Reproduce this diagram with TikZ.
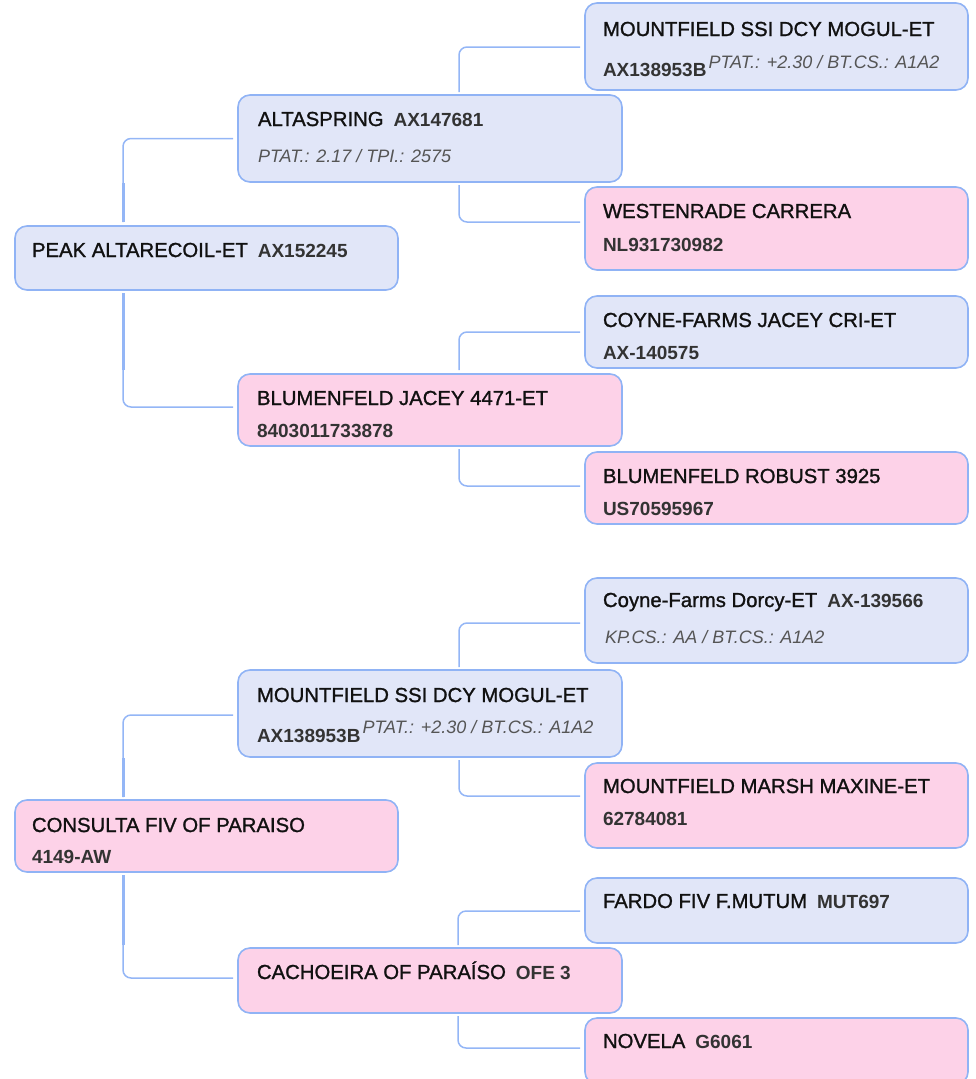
\documentclass[tikz,border=0pt]{standalone}
\usepackage{fontspec}
\setmainfont{Liberation Sans}
\newfontfamily\namefam[FakeBold=1.2]{Liberation Sans}
\definecolor{bluefill}{HTML}{E1E6F8}
\definecolor{pinkfill}{HTML}{FDD2E8}
\definecolor{bordercol}{HTML}{90B3F5}
\definecolor{conncol}{HTML}{94B6F6}
\definecolor{nmcol}{HTML}{111111}
\definecolor{idcol}{HTML}{333333}
\definecolor{itcol}{HTML}{555555}
\newcommand\nmf{\namefam\fontsize{20.3}{24}\selectfont\color{nmcol}}
\newcommand\idf{\normalfont\fontsize{19}{22}\selectfont\bfseries\color{idcol}}
\newcommand\itf{\normalfont\fontsize{18}{22}\selectfont\mdseries\itshape\color{itcol}}
\begin{document}
\begin{tikzpicture}[x=1pt,y=-1pt,
  box/.style={draw=bordercol, line width=1.6pt, rounded corners=12pt, outer sep=0pt, inner sep=0pt, anchor=north west, minimum width=383pt},
  bbox/.style={box, fill=bluefill},
  pbox/.style={box, fill=pinkfill},
  txt/.style={anchor=base west, inner sep=0pt, outer sep=0pt},
  conn/.style={draw=conncol, line width=1.5pt, rounded corners=8pt},
  connthick/.style={draw=conncol, line width=3pt}]
\useasboundingbox (0,0) rectangle (976,1079);

% boxes
\node[bbox, minimum height=87pt] (m1) at (585,3) {};
\node[bbox, minimum width=384pt, minimum height=87pt] (alta) at (238,95) {};
\node[pbox, minimum height=83pt] (west) at (585,187) {};
\node[bbox, minimum height=64pt] (peak) at (15,226) {};
\node[bbox, minimum height=72pt] (cjacey) at (585,296) {};
\node[pbox, minimum width=384pt, minimum height=72pt] (bjacey) at (238,374) {};
\node[pbox, minimum height=72pt] (robust) at (585,452) {};
\node[bbox, minimum height=85pt] (dorcy) at (585,578) {};
\node[bbox, minimum width=384pt, minimum height=87pt] (mount) at (238,670) {};
\node[pbox, minimum height=85pt] (marsh) at (585,763) {};
\node[pbox, minimum height=72pt] (consulta) at (15,800) {};
\node[bbox, minimum height=65pt] (fardo) at (585,878) {};
\node[pbox, minimum width=384pt, minimum height=65pt] (cach) at (238,948) {};
\node[pbox, minimum height=66pt] (novela) at (585,1018) {};

% texts
\node[txt] (t1) at ([xshift=18pt,yshift=-33pt]m1.north west) {\nmf MOUNTFIELD SSI DCY MOGUL-ET};
\node[txt] (t1b) at ([xshift=18pt,yshift=-73pt]m1.north west) {\idf AX138953B\kern2pt\raisebox{8pt}{\itf PTAT.: +2.30 / BT.CS.: A1A2}};
\node[txt] (t2) at ([xshift=20pt,yshift=-31pt]alta.north west) {\nmf ALTASPRING\hspace{10pt}\idf AX147681};
\node[txt] (t2b) at ([xshift=20pt,yshift=-67pt]alta.north west) {\itf PTAT.: 2.17 / TPI.: 2575};
\node[txt] (t3) at ([xshift=18pt,yshift=-31pt]west.north west) {\nmf WESTENRADE CARRERA};
\node[txt] (t3b) at ([xshift=18pt,yshift=-64pt]west.north west) {\idf NL931730982};
\node[txt] (t4) at ([xshift=17pt,yshift=-31pt]peak.north west) {\nmf PEAK ALTARECOIL-ET\hspace{10pt}\idf AX152245};
\node[txt] (t5) at ([xshift=18pt,yshift=-31pt]cjacey.north west) {\nmf COYNE-FARMS JACEY CRI-ET};
\node[txt] (t5b) at ([xshift=18pt,yshift=-63pt]cjacey.north west) {\idf AX-140575};
\node[txt] (t6) at ([xshift=19pt,yshift=-31pt]bjacey.north west) {\nmf BLUMENFELD JACEY 4471-ET};
\node[txt] (t6b) at ([xshift=19pt,yshift=-63pt]bjacey.north west) {\idf 8403011733878};
\node[txt] (t7) at ([xshift=18pt,yshift=-31pt]robust.north west) {\nmf BLUMENFELD ROBUST 3925};
\node[txt] (t7b) at ([xshift=18pt,yshift=-63pt]robust.north west) {\idf US70595967};
\node[txt] (t8) at ([xshift=18pt,yshift=-29pt]dorcy.north west) {\nmf Coyne-Farms Dorcy-ET\hspace{10pt}\idf AX-139566};
\node[txt] (t8b) at ([xshift=20pt,yshift=-65pt]dorcy.north west) {\itf KP.CS.: AA / BT.CS.: A1A2};
\node[txt] (t9) at ([xshift=19pt,yshift=-32pt]mount.north west) {\nmf MOUNTFIELD SSI DCY MOGUL-ET};
\node[txt] (t9b) at ([xshift=19pt,yshift=-72pt]mount.north west) {\idf AX138953B\kern2pt\raisebox{9pt}{\itf PTAT.: +2.30 / BT.CS.: A1A2}};
\node[txt] (t10) at ([xshift=18pt,yshift=-30pt]marsh.north west) {\nmf MOUNTFIELD MARSH MAXINE-ET};
\node[txt] (t10b) at ([xshift=18pt,yshift=-62pt]marsh.north west) {\idf 62784081};
\node[txt] (t11) at ([xshift=17pt,yshift=-32pt]consulta.north west) {\nmf CONSULTA FIV OF PARAISO};
\node[txt] (t11b) at ([xshift=17pt,yshift=-63pt]consulta.north west) {\idf 4149-AW};
\node[txt] (t12) at ([xshift=18pt,yshift=-30pt]fardo.north west) {\nmf FARDO FIV F.MUTUM\hspace{10pt}\idf MUT697};
\node[txt] (t13) at ([xshift=19pt,yshift=-31pt]cach.north west) {\nmf CACHOEIRA OF PARAÍSO\hspace{10pt}\idf OFE 3};
\node[txt] (t14) at ([xshift=18pt,yshift=-30pt]novela.north west) {\nmf NOVELA\hspace{10pt}\idf G6061};

% connectors
\draw[conn] ([xshift=108pt,yshift=4pt]peak.north west) |- ([xshift=-5pt]alta.west);
\draw[connthick] ([xshift=108pt,yshift=4pt]peak.north west) -- ++(0,-39);
\draw[conn] ([xshift=108pt,yshift=-3pt]peak.south west) |- ([xshift=-5pt,yshift=-33pt]bjacey.north west);
\draw[connthick] ([xshift=108pt,yshift=-3pt]peak.south west) -- ++(0,77);
\draw[conn] ([xshift=221pt,yshift=3pt]alta.north west) |- ([xshift=-5pt,yshift=-44pt]m1.north west);
\draw[conn] ([xshift=221pt,yshift=-3pt]alta.south west) |- ([xshift=-5pt,yshift=-35pt]west.north west);
\draw[conn] ([xshift=221pt,yshift=4pt]bjacey.north west) |- ([xshift=-5pt,yshift=-36pt]cjacey.north west);
\draw[conn] ([xshift=221pt,yshift=-3pt]bjacey.south west) |- ([xshift=-5pt,yshift=-34pt]robust.north west);

\draw[conn] ([xshift=108pt,yshift=3pt]consulta.north west) |- ([xshift=-5pt,yshift=-45pt]mount.north west);
\draw[connthick] ([xshift=108pt,yshift=3pt]consulta.north west) -- ++(0,-39);
\draw[conn] ([xshift=108pt,yshift=-3pt]consulta.south west) |- ([xshift=-5pt,yshift=-30pt]cach.north west);
\draw[connthick] ([xshift=108pt,yshift=-3pt]consulta.south west) -- ++(0,70);
\draw[conn] ([xshift=221pt,yshift=3pt]mount.north west) |- ([xshift=-5pt,yshift=-45pt]dorcy.north west);
\draw[conn] ([xshift=221pt,yshift=-3pt]mount.south west) |- ([xshift=-5pt,yshift=-33pt]marsh.north west);
\draw[conn] ([xshift=220pt,yshift=3pt]cach.north west) |- ([xshift=-5pt,yshift=-33pt]fardo.north west);
\draw[conn] ([xshift=220pt,yshift=-3pt]cach.south west) |- ([xshift=-5pt,yshift=-30pt]novela.north west);
\end{tikzpicture}
\end{document}
